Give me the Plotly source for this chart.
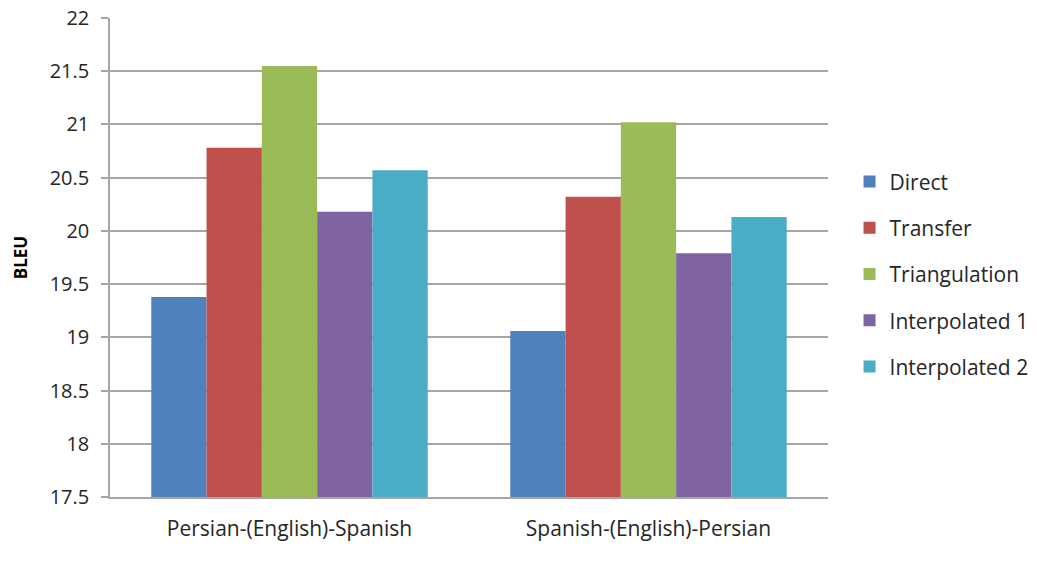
import plotly.graph_objects as go

categories = ["Persian-(English)-Spanish", "Spanish-(English)-Persian"]
series_names = ["Direct", "Transfer", "Triangulation", "Interpolated 1", "Interpolated 2"]
direct = [19.38, 19.06]
transfer = [20.78, 20.32]
triangulation = [21.55, 21.02]
interpolated_1 = [20.18, 19.79]
interpolated_2 = [20.57, 20.13]
series_values = [direct, transfer, triangulation, interpolated_1, interpolated_2]
colors = ["#4F81BD", "#C0504D", "#9BBB59", "#8064A2", "#4BACC6"]
y_ticks = [17.5, 18, 18.5, 19, 19.5, 20, 20.5, 21, 21.5, 22]

FONT = "'Open Sans', Lato, sans-serif"
TEXT = "#262626"

fig = go.Figure()
for name, vals, col in zip(series_names, series_values, colors):
    fig.add_trace(go.Bar(
        name=name, x=categories, y=vals, marker_color=col,
        marker_line_width=0, legendgroup=name,
    ))

fig.update_layout(
    width=1037, height=574,
    margin=dict(l=110, r=209, t=18, b=77, autoexpand=False),
    paper_bgcolor="white", plot_bgcolor="white",
    barmode="group", bargap=0.23, bargroupgap=0,
    font=dict(family=FONT, size=20, color=TEXT),
    legend=dict(
        x=1.03, xanchor="left", y=0.465, yanchor="middle",
        font=dict(family=FONT, size=21, color=TEXT),
        tracegroupgap=16, itemwidth=30,
    ),
)
fig.update_yaxes(
    range=[17.5, 22], tickvals=y_ticks, ticktext=[f"{v:g}" for v in y_ticks],
    showgrid=True, gridcolor="#A6A6A6", gridwidth=1.5,
    showline=True, linecolor="#A6A6A6", linewidth=1.5,
    ticks="outside", ticklen=7, tickcolor="#A6A6A6", tickwidth=1.5,
    ticklabelstandoff=8, zeroline=False, automargin=False,
    tickfont=dict(family=FONT, size=20, color=TEXT),
    title=dict(text="<b>BLEU</b>", font=dict(family=FONT, size=17, color="#000000"), standoff=18),
)
fig.update_xaxes(
    showline=True, linecolor="#A6A6A6", linewidth=1.5,
    ticks="", ticklabelstandoff=12, automargin=False,
    tickfont=dict(family=FONT, size=21, color=TEXT),
)

fig.write_html("out.html")
